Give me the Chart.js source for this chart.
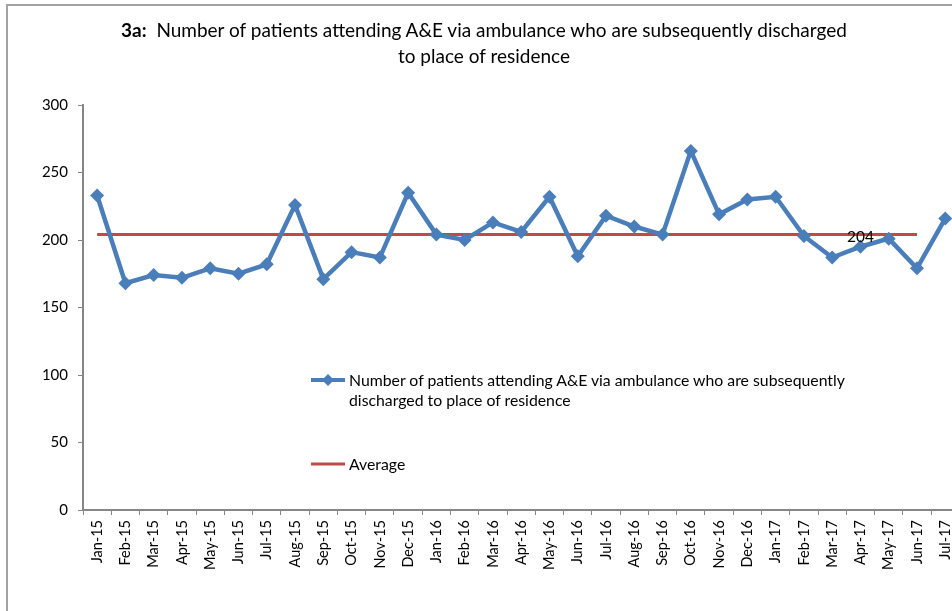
<!DOCTYPE html>
<html lang="en">
<head>
    <meta charset="UTF-8">
    <title>3a: Patients attending A&amp;E via ambulance discharged to place of residence</title>
    <script src="https://cdn.jsdelivr.net/npm/chart.js"></script>
    <style>
        body {
            margin: 0;
            width: 952px;
            height: 611px;
            overflow: hidden;
            background: #fff;
            font-family: Lato, sans-serif;
        }
        .frame {
            position: absolute;
            left: 6px;
            top: 4px;
            width: 1100px;
            height: 700px;
            border-left: 2px solid #a3a3a3;
            border-top: 2px solid #a3a3a3;
        }
        .wrap {
            position: absolute;
            left: 0;
            top: 0;
            width: 1000px;
            height: 611px;
        }
        .title {
            position: absolute;
            left: 0;
            width: 968px;
            top: 17px;
            text-align: center;
            font-size: 19px;
            line-height: 26px;
            color: #000;
        }
        .legend {
            position: absolute;
            left: 311px;
            font-size: 15.8px;
            line-height: 20px;
            color: #000;
        }
        .legend .item {
            position: absolute;
            left: 0;
            width: 600px;
        }
        .legend svg {
            position: absolute;
            left: 0;
            top: 4px;
        }
        .legend span {
            display: block;
            margin-left: 38px;
        }
    </style>
</head>
<body>
    <div class="frame"></div>
    <div class="wrap">
        <canvas id="chart" width="1000" height="611"></canvas>
    </div>
    <div class="title"><b>3a:</b>&nbsp; Number of patients attending A&amp;E via ambulance who are subsequently discharged<br>to place of residence</div>
    <div class="legend">
        <div class="item" style="top:370px">
            <svg width="36" height="12"><line x1="0" y1="6" x2="34" y2="6" stroke="#4a7ebb" stroke-width="4"/><path d="M17 0 L23 6 L17 12 L11 6 Z" fill="#4a7ebb"/></svg>
            <span>Number of patients attending A&amp;E via ambulance who are subsequently<br>discharged to place of residence</span>
        </div>
        <div class="item" style="top:454px">
            <svg width="36" height="12"><line x1="0" y1="6" x2="34" y2="6" stroke="#be4b48" stroke-width="3"/></svg>
            <span>Average</span>
        </div>
    </div>

    <script>
        // monthly figures
        const months = ['Jan-15', 'Feb-15', 'Mar-15', 'Apr-15', 'May-15', 'Jun-15', 'Jul-15', 'Aug-15',
            'Sep-15', 'Oct-15', 'Nov-15', 'Dec-15', 'Jan-16', 'Feb-16', 'Mar-16', 'Apr-16', 'May-16',
            'Jun-16', 'Jul-16', 'Aug-16', 'Sep-16', 'Oct-16', 'Nov-16', 'Dec-16', 'Jan-17', 'Feb-17',
            'Mar-17', 'Apr-17', 'May-17', 'Jun-17', 'Jul-17'];
        const patients = [233, 168, 174, 172, 179, 175, 182, 226, 171, 191, 187, 235, 204, 200, 213,
            206, 232, 188, 218, 210, 204, 266, 219, 230, 232, 203, 187, 195, 201, 179, 216];
        // average line runs Jan-15 to Jun-17 only
        const average = [204, 204, 204, 204, 204, 204, 204, 204, 204, 204, 204, 204, 204, 204, 204,
            204, 204, 204, 204, 204, 204, 204, 204, 204, 204, 204, 204, 204, 204, 204, null];
        const yTicks = [0, 50, 100, 150, 200, 250, 300];
        const avgLabelIndex = 27; // the "204" label sits at Apr-17

        const axisGrey = '#868686';

        const avgLabel = {
            id: 'avgLabel',
            afterDatasetsDraw(chart) {
                const ctx = chart.ctx;
                const x = chart.scales.x.getPixelForValue(avgLabelIndex);
                const y = chart.scales.y.getPixelForValue(average[avgLabelIndex]);
                ctx.save();
                ctx.font = '15.5px Lato';
                ctx.fillStyle = '#000';
                ctx.textAlign = 'center';
                ctx.textBaseline = 'middle';
                ctx.fillText(String(average[avgLabelIndex]), x, y + 2);
                ctx.restore();
            }
        };

        new Chart(document.getElementById('chart'), {
            type: 'line',
            data: {
                labels: months,
                datasets: [{
                    label: 'Number of patients attending A&E via ambulance who are subsequently discharged to place of residence',
                    data: patients,
                    borderColor: '#4a7ebb',
                    backgroundColor: '#4a7ebb',
                    borderWidth: 4.5,
                    pointStyle: 'rectRot',
                    pointRadius: 7,
                    pointBorderWidth: 0,
                    tension: 0
                }, {
                    label: 'Average',
                    data: average,
                    borderColor: '#be4b48',
                    backgroundColor: '#be4b48',
                    borderWidth: 3,
                    pointRadius: 0,
                    tension: 0
                }]
            },
            options: {
                responsive: false,
                animation: false,
                layout: {
                    padding: { left: 0, right: 40.6, top: 105, bottom: 0 }
                },
                plugins: {
                    legend: { display: false },
                    tooltip: { enabled: false }
                },
                scales: {
                    x: {
                        offset: true,
                        afterFit(scale) { scale.height = 101; },
                        grid: {
                            offset: true,
                            drawOnChartArea: false,
                            tickLength: 5,
                            color: axisGrey,
                            lineWidth: 1
                        },
                        border: { color: axisGrey, width: 2 },
                        ticks: {
                            autoSkip: false,
                            minRotation: 90,
                            maxRotation: 90,
                            padding: 5,
                            color: '#000',
                            font: { family: 'Lato', size: 14.5 }
                        }
                    },
                    y: {
                        min: 0,
                        max: 300,
                        afterFit(scale) { scale.width = 83; },
                        afterBuildTicks(scale) { scale.ticks = yTicks.map(v => ({ value: v })); },
                        grid: {
                            drawOnChartArea: false,
                            tickLength: 5,
                            color: axisGrey,
                            lineWidth: 1
                        },
                        border: { color: axisGrey, width: 2 },
                        ticks: {
                            padding: 10,
                            color: '#000',
                            font: { family: 'Lato', size: 15 }
                        }
                    }
                }
            },
            plugins: [avgLabel]
        });
    </script>
</body>
</html>
